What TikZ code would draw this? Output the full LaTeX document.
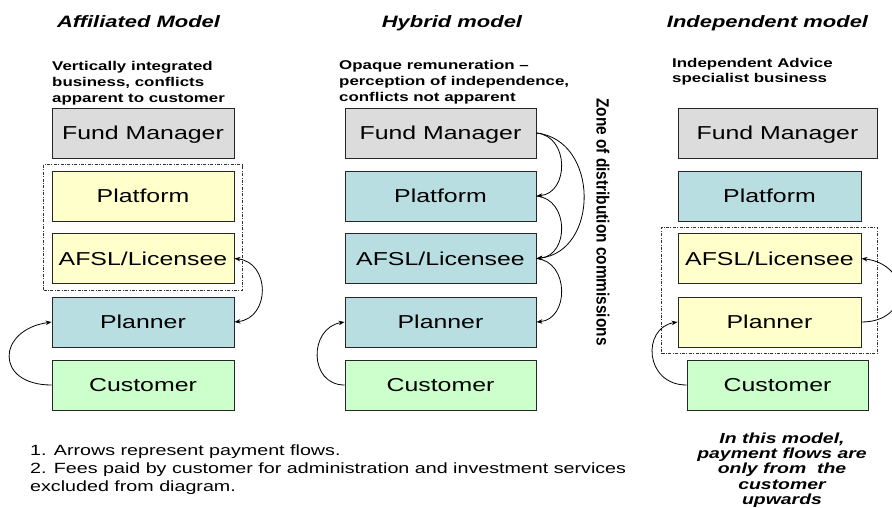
\documentclass[tikz,border=0pt]{standalone}
\usepackage{fontspec}
\setmainfont{Liberation Sans}[FakeStretch=1.33]
\newfontfamily\zonefont{Liberation Sans}
\usetikzlibrary{arrows.meta,fit}

\definecolor{fmgray}{HTML}{DCDCDC}
\definecolor{paleyellow}{HTML}{FFFFCC}
\definecolor{tealbox}{HTML}{B8DEE2}
\definecolor{mint}{HTML}{CCFFCC}

\tikzset{
  box/.style={draw=black!85, line width=0.9pt, inner sep=0pt,
    minimum height=50pt, text height=13.4pt, text depth=0pt,
    font=\fontsize{18.7}{22}\selectfont},
  coltitle/.style={font=\fontsize{16.5}{20}\selectfont\bfseries\itshape,
    inner sep=0pt, anchor=base},
  subtitle/.style={font=\fontsize{12.7}{16}\selectfont\bfseries,
    align=left, inner sep=0pt, anchor=north west},
  footnote/.style={font=\fontsize{14.8}{18}\selectfont, inner sep=0pt},
  grouping/.style={draw=black!80, line width=0.6pt,
    dash pattern=on 3pt off 1.5pt on 0.8pt off 1.5pt, inner sep=0pt},
  flow/.style={-{Stealth[length=6pt,width=4.5pt]}, line width=0.8pt},
  twoway/.style={{Stealth[length=6pt,width=4.5pt]}-{Stealth[length=6pt,width=4.5pt]}, line width=0.8pt}
}

\begin{document}
\begin{tikzpicture}[x=1pt,y=-1pt]
\fill[white] (0,0) rectangle (892,507);
\useasboundingbox (0,0) rectangle (892,507);

% column headings
\node[coltitle] (ta) at (138.5,27.3) {Affiliated Model};
\node[coltitle] (tb) at (452,27.3) {Hybrid model};
\node[coltitle] (tc) at (767.5,27.3) {Independent model};

% short descriptions
\node[subtitle] (sa) at (52,60.7) {Vertically integrated\\business, conflicts\\apparent to customer};
\node[subtitle] (sb) at (339,60.2) {Opaque remuneration --\\perception of independence,\\conflicts not apparent};
\node[subtitle, font=\fontsize{12.7}{15}\selectfont\bfseries] (sc) at (672,58.4) {Independent Advice\\specialist business};

% affiliated model
\node[box, fill=fmgray, minimum width=182pt] (aFM) at (143,133) {Fund Manager};
\node[box, fill=paleyellow, minimum width=182pt] (aPL) at (143,196) {Platform};
\node[box, fill=paleyellow, minimum width=182pt] (aAF) at (143,258.5) {AFSL/Licensee};
\node[box, fill=tealbox, minimum width=182pt] (aPN) at (143,322) {Planner};
\node[box, fill=mint, minimum width=182pt] (aCU) at (143,385) {Customer};
\node[grouping, fit=(aPL)(aAF), inner xsep=8pt, inner ysep=6pt] (aG) {};

\draw[twoway] (aAF.east) .. controls +(36,4) and +(36,-4) .. (aPN.east);
\draw[flow] (aCU.west) .. controls +(-57,0) and +(-55,8) .. (aPN.west);

% hybrid model
\node[box, fill=fmgray, minimum width=191pt] (bFM) at (440.5,133) {Fund Manager};
\node[box, fill=tealbox, minimum width=191pt] (bPL) at (440.5,196) {Platform};
\node[box, fill=tealbox, minimum width=191pt] (bAF) at (440.5,258.5) {AFSL/Licensee};
\node[box, fill=tealbox, minimum width=191pt] (bPN) at (440.5,322) {Planner};
\node[box, fill=mint, minimum width=191pt] (bCU) at (440.5,385) {Customer};

\draw[flow] (bFM.east) .. controls +(33,3) and +(33,-3) .. (bPL.east);
\draw[flow] (bFM.east) .. controls +(63,7) and +(63,-7) .. (bAF.east);
\draw[flow] (bPL.east) .. controls +(33,3) and +(33,-3) .. (bAF.east);
\draw[flow] (bAF.east) .. controls +(33,3) and +(33,-3) .. (bPN.east);
\draw[flow] (bCU.west) .. controls +(-36,0) and +(-36,6) .. (bPN.west);

\node[rotate=-90, inner sep=0pt, font=\zonefont\bfseries\fontsize{15.4}{18}\selectfont]
  (zone) at (603,222) {\scalebox{1}[1.15]{Zone of distribution commissions}};

% independent model
\node[box, fill=fmgray, minimum width=199pt] (cFM) at (777.5,133) {Fund Manager};
\node[box, fill=tealbox, minimum width=183pt] (cPL) at (769.5,196) {Platform};
\node[box, fill=paleyellow, minimum width=183pt] (cAF) at (769.5,258.5) {AFSL/Licensee};
\node[box, fill=paleyellow, minimum width=183pt] (cPN) at (769.5,322) {Planner};
\node[box, fill=mint, minimum width=181pt] (cCU) at (777.5,385) {Customer};
\node[grouping, fit=(cAF)(cPN), inner xsep=16pt, inner ysep=6pt] (cG) {};

\draw[flow] (cPN.east) .. controls +(50,0) and +(50,6) .. (cAF.east);
\draw[flow] (cCU.west) .. controls +(-42,0) and +(-36,6) .. (cPN.west);

% notes
\node[footnote, anchor=base west] (fn1) at (30,455) {1. Arrows represent payment flows.};
\node[footnote, align=left, anchor=north west] (fn2) at (30,462.2)
  {2. Fees paid by customer for administration and investment services\\excluded from diagram.};
\node[font=\fontsize{14.6}{15.3}\selectfont\bfseries\itshape, align=center,
  inner sep=0pt, anchor=north] (cnote) at (782,432.4)
  {In this model,\\payment flows are\\only from\ \ the\\customer\\upwards};
\end{tikzpicture}
\end{document}
